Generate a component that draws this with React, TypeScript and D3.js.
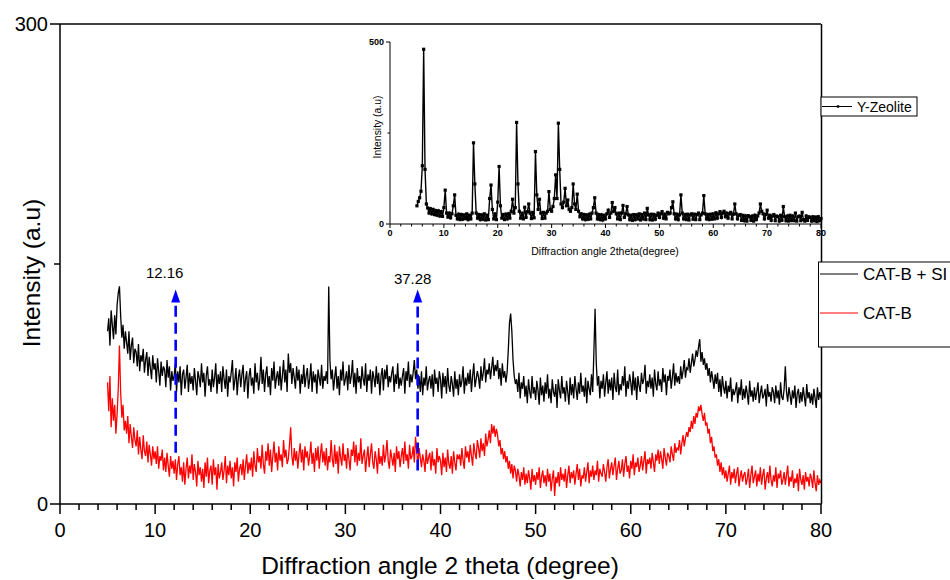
import React from "react";
import * as d3 from "d3";

// 2θ sampling grids of the recorded patterns
const X_START = 5;
const MAIN_STEP = 0.125;
const INSET_STEP = 0.25;

// CAT-B + SI (black), one row per degree (8 points), 5.000 .. 80.000
const catBSI: number[] = [
  108, 116, 99, 121, 112, 103, 118, 106,
  124, 132, 136, 118, 104, 112, 97, 108,
  101, 94, 108, 90, 99, 104, 88, 97,
  95, 86, 100, 83, 93, 89, 97, 82,
  90, 95, 80, 92, 85, 78, 93, 84,
  88, 76, 91, 83, 74, 89, 80, 86,
  84, 73, 90, 79, 86, 71, 83, 77,
  80, 88, 70, 83, 76, 86, 68, 81,
  84, 72, 79, 87, 70, 82, 75, 80,
  71, 85, 77, 68, 83, 79, 73, 88,
  76, 82, 67, 80, 86, 74, 78, 70,
  84, 73, 79, 88, 69, 81, 75, 83,
  70, 86, 78, 72, 84, 67, 80, 76,
  82, 90, 71, 77, 85, 68, 79, 84,
  73, 81, 87, 70, 78, 83, 66, 80,
  85, 74, 79, 69, 88, 76, 82, 71,
  78, 92, 75, 84, 70, 81, 86, 73,
  80, 68, 85, 77, 89, 72, 79, 83,
  74, 86, 71, 80, 90, 76, 84, 70,
  94, 82, 88, 75, 85, 79, 72, 86,
  77, 84, 69, 81, 75, 87, 73, 80,
  85, 72, 78, 88, 70, 83, 76, 81,
  69, 84, 79, 74, 87, 72, 80, 77,
  83, 75, 136, 90, 78, 84, 71, 79,
  86, 72, 80, 68, 84, 77, 89, 74,
  78, 83, 71, 87, 75, 80, 90, 73,
  82, 69, 85, 76, 80, 72, 86, 78,
  74, 88, 70, 81, 77, 84, 69, 83,
  79, 73, 86, 75, 82, 68, 80, 85,
  71, 84, 78, 87, 73, 80, 76, 82,
  86, 70, 81, 75, 88, 72, 79, 74,
  80, 85, 69, 83, 77, 89, 73, 81,
  76, 82, 90, 78, 84, 72, 80, 70,
  83, 68, 79, 74, 86, 71, 77, 80,
  72, 81, 67, 84, 75, 79, 70, 83,
  78, 66, 82, 73, 80, 69, 85, 74,
  70, 80, 75, 67, 83, 72, 78, 68,
  81, 73, 77, 86, 69, 79, 74, 82,
  75, 84, 70, 80, 88, 73, 78, 83,
  79, 72, 86, 77, 82, 91, 76, 84,
  81, 88, 78, 85, 92, 80, 87, 83,
  90, 78, 85, 74, 88, 79, 83, 76,
  82, 96, 113, 119, 108, 90, 80, 75,
  78, 70, 82, 66, 76, 72, 80, 67,
  74, 63, 78, 70, 66, 80, 69, 73,
  65, 77, 71, 62, 79, 68, 74, 64,
  76, 69, 81, 66, 72, 63, 78, 70,
  67, 75, 60, 78, 71, 66, 80, 69,
  73, 64, 77, 70, 62, 79, 68, 75,
  66, 80, 72, 65, 76, 69, 82, 70,
  74, 67, 79, 63, 77, 72, 68, 81,
  70, 95, 122, 88, 74, 80, 66, 77,
  72, 81, 67, 76, 83, 69, 78, 71,
  79, 65, 82, 73, 70, 84, 68, 75,
  71, 80, 74, 86, 67, 77, 72, 81,
  76, 68, 83, 71, 79, 65, 80, 74,
  70, 82, 75, 78, 87, 69, 77, 73,
  81, 72, 79, 67, 84, 75, 71, 83,
  74, 78, 70, 85, 76, 81, 68, 80,
  77, 84, 72, 79, 88, 74, 82, 76,
  80, 75, 86, 78, 83, 90, 79, 85,
  84, 91, 82, 88, 94, 86, 90, 96,
  92, 98, 103, 89, 95, 87, 91, 84,
  88, 80, 85, 76, 83, 78, 72, 81,
  75, 82, 70, 78, 67, 80, 73, 69,
  77, 66, 74, 70, 79, 64, 72, 68,
  71, 76, 63, 73, 68, 78, 65, 72,
  66, 74, 69, 62, 77, 67, 71, 64,
  73, 65, 70, 76, 63, 69, 74, 66,
  68, 72, 61, 75, 67, 70, 64, 73,
  70, 63, 74, 66, 71, 62, 76, 67,
  65, 72, 86, 70, 64, 73, 68, 62,
  71, 66, 74, 60, 69, 72, 63, 70,
  64, 73, 67, 61, 75, 66, 70, 63,
  69, 62, 72, 66, 60, 73, 65, 70,
  66,
];

// CAT-B (red)
const catB: number[] = [
  76, 58, 80, 48, 66, 52, 62, 44,
  56, 72, 99, 70, 54, 62, 46, 52,
  44, 55, 38, 50, 42, 35, 48, 40,
  36, 46, 31, 42, 34, 28, 43, 33,
  30, 39, 26, 37, 31, 24, 36, 28,
  33, 25, 36, 22, 30, 27, 34, 21,
  29, 20, 32, 24, 17, 30, 22, 27,
  19, 28, 15, 25, 30, 18, 23, 14,
  26, 12, 22, 29, 16, 24, 19, 31,
  15, 25, 20, 11, 27, 18, 23, 14,
  22, 10, 26, 17, 29, 13, 21, 24,
  12, 28, 18, 23, 9, 25, 16, 20,
  26, 15, 21, 30, 13, 24, 18, 27,
  16, 23, 11, 26, 20, 29, 14, 22,
  25, 18, 28, 15, 24, 31, 19, 26,
  21, 29, 17, 33, 24, 20, 35, 26,
  30, 22, 37, 25, 19, 33, 27, 38,
  24, 34, 20, 30, 39, 26, 32, 21,
  36, 27, 31, 23, 40, 29, 34, 25,
  28, 37, 48, 30, 24, 35, 27, 33,
  22, 31, 38, 26, 34, 21, 36, 29,
  33, 24, 30, 39, 25, 32, 20, 35,
  27, 36, 22, 31, 38, 26, 33, 24,
  35, 21, 30, 26, 40, 28, 23, 37,
  25, 33, 19, 36, 29, 24, 38, 27,
  31, 22, 35, 28, 21, 34, 30, 39,
  26, 37, 24, 32, 27, 41, 25, 30,
  34, 20, 29, 36, 23, 31, 38, 26,
  22, 33, 28, 19, 35, 25, 30, 24,
  37, 26, 31, 40, 27, 22, 34, 29,
  24, 32, 20, 36, 28, 33, 23, 30,
  35, 25, 39, 27, 31, 22, 37, 28,
  30, 36, 26, 42, 33, 24, 35, 29,
  23, 31, 27, 20, 34, 25, 29, 32,
  21, 33, 24, 28, 19, 35, 26, 30,
  27, 18, 32, 23, 29, 20, 34, 25,
  22, 30, 19, 33, 26, 21, 31, 28,
  31, 24, 35, 27, 22, 36, 29, 33,
  26, 37, 30, 24, 38, 32, 28, 40,
  35, 29, 41, 33, 38, 30, 44, 36,
  40, 46, 38, 50, 44, 49, 42, 47,
  43, 36, 40, 31, 35, 28, 33, 26,
  30, 22, 27, 19, 25, 16, 24, 21,
  14, 22, 18, 11, 20, 15, 23, 12,
  19, 13, 21, 16, 9, 22, 14, 18,
  12, 20, 15, 23, 10, 17, 21, 13,
  18, 11, 22, 14, 19, 8, 16, 21,
  5, 17, 13, 20, 11, 23, 15, 19,
  14, 22, 10, 18, 24, 13, 20, 16,
  21, 12, 19, 25, 15, 22, 11, 18,
  16, 23, 14, 20, 26, 13, 21, 17,
  24, 15, 21, 18, 27, 14, 22, 19,
  17, 25, 20, 14, 23, 28, 16, 22,
  26, 18, 24, 29, 15, 22, 27, 19,
  21, 28, 17, 25, 30, 20, 24, 16,
  27, 22, 31, 18, 26, 23, 29, 20,
  24, 30, 21, 27, 33, 19, 28, 25,
  29, 22, 32, 26, 20, 31, 27, 34,
  25, 33, 28, 22, 35, 29, 24, 32,
  30, 26, 36, 31, 27, 38, 32, 35,
  34, 40, 31, 38, 43, 36, 41, 45,
  42, 48, 45, 52, 47, 55, 50, 57,
  54, 61, 58, 62, 56, 52, 57, 49,
  51, 44, 47, 38, 42, 33, 36, 29,
  31, 24, 28, 20, 26, 18, 23, 16,
  21, 14, 19, 24, 12, 20, 16, 22,
  13, 19, 23, 11, 17, 21, 14, 18,
  20, 12, 16, 22, 10, 18, 24, 13,
  17, 21, 11, 19, 14, 23, 12, 18,
  22, 9, 16, 20, 13, 24, 15, 11,
  18, 14, 23, 10, 19, 16, 21, 12,
  15, 20, 12, 18, 24, 11, 17, 14,
  21, 10, 16, 13, 19, 8, 22, 15,
  12, 18, 9, 20, 14, 17, 11, 19,
  16, 10, 21, 13, 8, 18, 12, 15,
  13,
];

// Y-Zeolite (inset), one row per degree (4 points)
const yZeolite: number[] = [
  50, 62, 72, 90,
  160, 480, 150, 55,
  44, 30, 42, 28,
  40, 26, 37, 24,
  36, 22, 34, 21,
  45, 93, 30, 19,
  30, 17, 28, 50,
  80, 24, 14, 27,
  12, 26, 13, 25,
  15, 28, 12, 24,
  14, 30, 223, 110,
  30, 16, 26, 12,
  25, 13, 28, 11,
  24, 12, 70, 107,
  40, 14, 28, 12,
  60, 158, 50, 16,
  26, 12, 27, 14,
  28, 16, 35, 68,
  30, 45, 279, 110,
  35, 16, 30, 14,
  46, 18, 34, 55,
  30, 15, 32, 17,
  199, 80, 40, 68,
  30, 15, 32, 16,
  30, 35, 89, 40,
  35, 48, 70, 135,
  70, 277, 150, 55,
  45, 60, 98, 50,
  66, 40, 35, 45,
  110, 55, 40, 82,
  35, 20, 28, 14,
  26, 12, 25, 13,
  27, 14, 30, 45,
  72, 30, 14, 26,
  12, 25, 11, 24,
  14, 28, 38, 18,
  30, 59, 35, 45,
  28, 14, 30, 12,
  30, 51, 18, 28,
  48, 25, 12, 24,
  10, 26, 12, 25,
  14, 28, 11, 26,
  14, 30, 12, 43,
  25, 12, 27, 11,
  26, 13, 24, 30,
  18, 28, 34, 16,
  27, 14, 32, 28,
  30, 45, 61, 28,
  14, 27, 12, 25,
  80, 30, 14, 26,
  12, 27, 11, 25,
  28, 13, 27, 12,
  26, 30, 12, 25,
  30, 78, 28, 14,
  26, 12, 27, 13,
  28, 14, 31, 16,
  28, 34, 18, 30,
  35, 20, 30, 16,
  28, 32, 14, 27,
  55, 28, 14, 24,
  26, 10, 24, 9,
  22, 8, 23, 20,
  10, 22, 8, 24,
  12, 22, 30, 55,
  35, 28, 14, 26,
  38, 16, 24, 10,
  22, 26, 9, 22,
  20, 8, 24, 10,
  48, 20, 9, 22,
  8, 24, 10, 22,
  9, 30, 8, 20,
  22, 9, 32, 12,
  8, 22, 10, 20,
  18, 8, 20, 9,
  19, 7, 20, 9,
  15,
];

const mainXTicks = [0, 10, 20, 30, 40, 50, 60, 70, 80];
const mainYTicks = [0, 300];
const mainYMinor = [150];
const insetXTicks = [0, 10, 20, 30, 40, 50, 60, 70, 80];
const insetYTicks = [0, 500];
const insetYMinor = [250];

// peak annotations: label, arrow 2θ, arrow bottom / tip intensity
const annLabels = ["12.16", "37.28"];
const annX = [12.16, 37.6];
const annBottom = [32, 21];
const annTop = [134, 134];

const FONT = "'Liberation Sans', Arial, Helvetica, sans-serif";

export default function App() {
  const x = d3.scaleLinear().domain([0, 80]).range([60, 821]);
  const y = d3.scaleLinear().domain([0, 300]).range([504, 24]);
  const ix = d3.scaleLinear().domain([0, 80]).range([390, 821]);
  const iy = d3.scaleLinear().domain([0, 500]).range([224, 42]);

  const toPts = (arr: number[], step: number) =>
    arr.map((v, i) => [X_START + i * step, v] as [number, number]);

  const mainLine = d3
    .line<[number, number]>()
    .x((d) => x(d[0]))
    .y((d) => y(d[1]));
  const insetLine = d3
    .line<[number, number]>()
    .x((d) => ix(d[0]))
    .y((d) => iy(d[1]));

  const zPts = toPts(yZeolite, INSET_STEP);
  const minorX = d3.range(0, 81, 2).filter((v) => v % 10 !== 0);

  return (
    <svg
      width={950}
      height={580}
      style={{ position: "absolute", left: 0, top: 0, background: "#fff" }}
      fontFamily={FONT}
    >
      <rect x={0} y={0} width={950} height={580} fill="#fff" />
      {/* data */}
      <path d={mainLine(toPts(catBSI, MAIN_STEP)) || ""} fill="none" stroke="#000" strokeWidth={1.3} />
      <path d={mainLine(toPts(catB, MAIN_STEP)) || ""} fill="none" stroke="#ff0000" strokeWidth={1.3} />

      {/* frame */}
      <line x1={60} x2={821} y1={24} y2={24} stroke="#000" strokeWidth={1.5} />
      <line x1={821.5} x2={821.5} y1={24} y2={504} stroke="#000" strokeWidth={1.5} />
      <line x1={60} x2={60} y1={24} y2={504} stroke="#000" strokeWidth={1.5} />
      <line x1={60} x2={821.5} y1={504} y2={504} stroke="#000" strokeWidth={1.5} />

      {/* x ticks */}
      {mainXTicks.map((t) => (
        <g key={"xt" + t}>
          <line x1={x(t)} x2={x(t)} y1={504} y2={514} stroke="#000" strokeWidth={1.5} />
          <text x={x(t)} y={537} fontSize={20} textAnchor="middle" fill="#000">
            {t}
          </text>
        </g>
      ))}
      {minorX.map((t) => (
        <line key={"xm" + t} x1={x(t)} x2={x(t)} y1={504} y2={510} stroke="#000" strokeWidth={1.5} />
      ))}
      {/* y ticks */}
      {mainYTicks.map((t) => (
        <g key={"yt" + t}>
          <line x1={50} x2={60} y1={y(t)} y2={y(t)} stroke="#000" strokeWidth={1.5} />
          <text x={48} y={y(t) + 7} fontSize={20} textAnchor="end" fill="#000">
            {t}
          </text>
        </g>
      ))}
      {mainYMinor.map((t) => (
        <line key={"ym" + t} x1={54} x2={60} y1={y(t)} y2={y(t)} stroke="#000" strokeWidth={1.5} />
      ))}

      {/* axis titles */}
      <text x={440} y={574} fontSize={24.5} textAnchor="middle" fill="#000">
        Diffraction angle 2 theta (degree)
      </text>
      <text
        transform={`translate(40,${273}) rotate(-90)`}
        fontSize={24.5}
        textAnchor="middle"
        fill="#000"
      >
        Intensity (a.u)
      </text>

      {/* annotations */}
      {annLabels.map((lab, i) => {
        const ax = x(annX[i]);
        const tip = y(annTop[i]);
        return (
          <g key={"ann" + i}>
            <line
              x1={ax}
              x2={ax}
              y1={y(annBottom[i])}
              y2={tip + 10}
              stroke="#0000ff"
              strokeWidth={2.6}
              strokeDasharray="11 6"
            />
            <path
              d={`M${ax},${tip} L${ax - 4.5},${tip + 13} L${ax + 4.5},${tip + 13} Z`}
              fill="#0000ff"
            />
            <text
              x={ax - (i === 0 ? 11 : 5)}
              y={tip - (i === 0 ? 12 : 6)}
              fontSize={15}
              textAnchor="middle"
              fill="#000"
            >
              {lab}
            </text>
          </g>
        );
      })}

      {/* inset */}
      <path d={insetLine(zPts) || ""} fill="none" stroke="#000" strokeWidth={1.4} />
      {zPts.map((d, i) => (
        <rect key={"zp" + i} x={ix(d[0]) - 1.6} y={iy(d[1]) - 1.6} width={3.2} height={3.2} fill="#000" />
      ))}
      <line x1={390} x2={390} y1={42} y2={224} stroke="#000" strokeWidth={1} />
      <line x1={390} x2={821} y1={224} y2={224} stroke="#000" strokeWidth={1} />
      {insetXTicks.map((t) => (
        <g key={"ixt" + t}>
          <line x1={ix(t)} x2={ix(t)} y1={224} y2={228} stroke="#000" strokeWidth={1} />
          <text x={ix(t)} y={235.5} fontSize={9} fontWeight="bold" textAnchor="middle" fill="#000">
            {t}
          </text>
        </g>
      ))}
      {minorX.map((t) => (
        <line key={"ixm" + t} x1={ix(t)} x2={ix(t)} y1={224} y2={226.5} stroke="#000" strokeWidth={1} />
      ))}
      {insetYTicks.map((t) => (
        <g key={"iyt" + t}>
          <line x1={386} x2={390} y1={iy(t)} y2={iy(t)} stroke="#000" strokeWidth={1} />
          <text x={384} y={iy(t) + 3.2} fontSize={9} fontWeight="bold" textAnchor="end" fill="#000">
            {t}
          </text>
        </g>
      ))}
      {insetYMinor.map((t) => (
        <line key={"iym" + t} x1={387.5} x2={390} y1={iy(t)} y2={iy(t)} stroke="#000" strokeWidth={1} />
      ))}
      <text x={605} y={255} fontSize={10.5} textAnchor="middle" fill="#000">
        Diffraction angle 2theta(degree)
      </text>
      <text transform={`translate(381,127) rotate(-90)`} fontSize={10.4} textAnchor="middle" fill="#000">
        Intensity (a.u)
      </text>

      {/* legends */}
      <rect x={821} y={97} width={96} height={19} fill="#fff" stroke="#000" strokeWidth={1} />
      <line x1={822} x2={852} y1={106.5} y2={106.5} stroke="#000" strokeWidth={1} />
      <rect x={836.8} y={105.3} width={2.4} height={2.4} fill="#000" />
      <text x={857} y={112} fontSize={14} fill="#000">
        Y-Zeolite
      </text>

      <rect x={818.5} y={262} width={145} height={85} fill="#fff" stroke="#000" strokeWidth={1} />
      <line x1={820} x2={858} y1={274} y2={274} stroke="#000" strokeWidth={1.1} />
      <text x={863} y={280} fontSize={17} fill="#000">
        CAT-B + SI
      </text>
      <line x1={820} x2={858} y1={313} y2={313} stroke="#ff0000" strokeWidth={1.1} />
      <text x={863} y={319} fontSize={17} fill="#000">
        CAT-B
      </text>
    </svg>
  );
}
